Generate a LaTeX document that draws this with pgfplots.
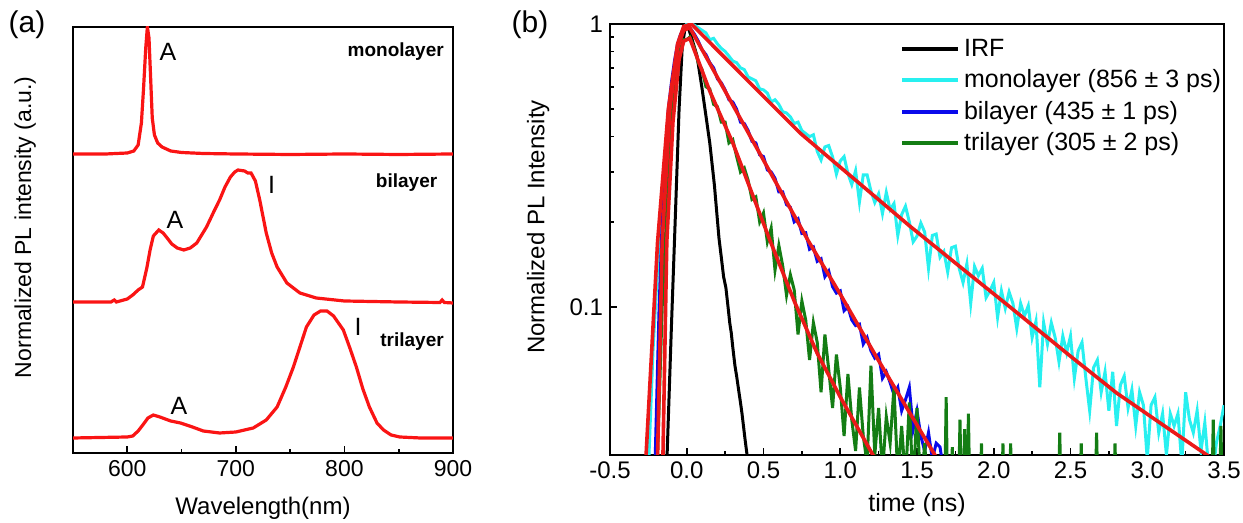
\documentclass[border=0pt]{standalone}
\usepackage{fontspec}
\setmainfont{Liberation Sans}
\usepackage{pgfplots}
\pgfplotsset{compat=1.18}
\definecolor{specred}{RGB}{250,20,20}
\definecolor{fitred}{RGB}{235,25,25}
\definecolor{cyanline}{RGB}{40,240,240}
\definecolor{blueline}{RGB}{10,10,235}
\definecolor{greenline}{RGB}{20,125,20}

\pgfplotsset{
  common/.style={
    scale only axis,
    anchor=south west,
    tick pos=left,
    tick align=inside,
    major tick length=3.5pt,
    minor tick length=2pt,
    axis line style={line width=0.8pt},
    every tick/.style={black, line width=0.8pt},
    /pgf/number format/assume math mode=true,
  }
}

\begin{document}
\begin{tikzpicture}
\useasboundingbox (0,0) rectangle (621.5pt,261.5pt);

\node[font=\fontsize{15}{17}\selectfont] at (13.5pt,249pt) {(a)};
\node[font=\fontsize{15}{17}\selectfont] at (265pt,249pt) {(b)};

% ---------------- panel (a): PL spectra ----------------
\begin{axis}[common,
  at={(36.5pt,35pt)}, width=190pt, height=213pt,
  xmin=550, xmax=900, ymin=0, ymax=4.26,
  xtick={600,700,800,900}, minor xtick={650,750,850}, ytick=\empty,
  ticklabel style={font=\fontsize{11.5}{13}\selectfont},
  xlabel={Wavelength(nm)},
  ylabel={Normalized PL intensity (a.u.)},
  xlabel style={font=\fontsize{12}{14}\selectfont, at={(axis description cs:0.5,-0.129)}, anchor=center},
  ylabel style={font=\fontsize{11.5}{13}\selectfont, at={(axis description cs:-0.126,0.53)}, anchor=center, rotate=0},
]
% monolayer
\addplot[specred, line width=1.6pt] coordinates {
(550,2.99) (580,2.99) (600,3.00) (606,3.02) (610,3.08) (613,3.30) (615,3.65) (617,4.05)
(618.5,4.26) (620,4.15) (621.5,3.75) (623,3.35) (625,3.18) (628,3.10) (632,3.06) (640,3.02)
(650,3.005) (670,2.995) (700,2.99) (750,2.985) (800,2.99) (850,2.985) (900,2.99)};
% bilayer
\addplot[specred, line width=1.6pt] coordinates {
(550,1.51) (585,1.51) (588,1.53) (590,1.51) (600,1.54) (605,1.58) (610,1.63) (614,1.66) (618,1.85)
(621,2.03) (624,2.17) (629,2.23) (633,2.20) (636,2.16) (641,2.09) (646,2.05) (652,2.03)
(658,2.05) (664,2.10) (673,2.26) (680,2.42) (685,2.53) (690,2.66) (695,2.76) (699,2.81)
(702,2.83) (708,2.82) (711,2.80) (714,2.80) (718,2.72) (722,2.53) (728,2.20) (733,2.00)
(738,1.86) (747,1.70) (759,1.60) (774,1.55) (800,1.52) (850,1.51) (888,1.505) (890,1.53) (892,1.505) (900,1.50)};
% trilayer
\addplot[specred, line width=1.6pt] coordinates {
(550,0.15) (600,0.16) (605,0.17) (610,0.22) (615,0.29) (619,0.35) (624,0.38) (630,0.36)
(640,0.32) (649,0.30) (660,0.26) (670,0.22) (685,0.20) (700,0.21) (716,0.25) (728,0.33)
(738,0.46) (746,0.66) (753,0.86) (759,1.06) (765,1.26) (772,1.38) (778,1.42) (784,1.42)
(790,1.37) (799,1.23) (805,1.05) (811,0.86) (817,0.64) (823,0.46) (830,0.30) (836,0.23)
(843,0.18) (851,0.16) (870,0.15) (900,0.15)};

\node[font=\fontsize{12.5}{14}\selectfont] at (axis cs:637.5,4.01) {A};
\node[font=\fontsize{12.5}{14}\selectfont] at (axis cs:644,2.33) {A};
\node[font=\fontsize{12.5}{14}\selectfont] at (axis cs:647.6,0.47) {A};
\node[font=\fontsize{12.5}{14}\selectfont] at (axis cs:733,2.68) {I};
\node[font=\fontsize{12.5}{14}\selectfont] at (axis cs:812.5,1.26) {I};
\node[font=\bfseries\fontsize{9.5}{11}\selectfont, anchor=east] at (axis cs:898,4.01) {monolayer};
\node[font=\bfseries\fontsize{9.5}{11}\selectfont, anchor=east] at (axis cs:892,2.70) {bilayer};
\node[font=\bfseries\fontsize{9.5}{11}\selectfont, anchor=east] at (axis cs:898,1.11) {trilayer};
\end{axis}

% ---------------- panel (b): PL decay ----------------
\begin{axis}[common,
  at={(305pt,34pt)}, width=307pt, height=215.5pt,
  ymode=log,
  xmin=-0.5, xmax=3.5, ymin=0.03, ymax=1,
  xtick={-0.5,0,0.5,1,1.5,2,2.5,3,3.5},
  minor xtick={-0.25,0.25,0.75,1.25,1.75,2.25,2.75,3.25},
  xticklabel style={/pgf/number format/.cd, fixed, fixed zerofill, precision=1},
  ytick={0.1,1}, yticklabels={0.1,1},
  ticklabel style={font=\fontsize{12}{14}\selectfont},
  xlabel={time (ns)},
  ylabel={Normalized PL Intensity},
  xlabel style={font=\fontsize{12.5}{14}\selectfont, at={(axis description cs:0.5,-0.116)}, anchor=center},
  ylabel style={font=\fontsize{12}{14}\selectfont, at={(axis description cs:-0.117,0.529)}, anchor=center, rotate=0},
  legend cell align=left,
  legend image code/.code={\draw[#1, line width=2pt] (0pt,0pt) -- (28pt,0pt);},
  legend style={draw=none, fill=none, at={(0.462,0.985)}, anchor=north west,
    font=\fontsize{12.5}{14}\selectfont, row sep=1.2pt,
    /tikz/every odd column/.append style={column sep=0pt}},
]
% IRF
\addplot[black, line width=1.5pt] coordinates {
(-0.135,0.025) (-0.128,0.03) (-0.10,0.085) (-0.077,0.19) (-0.05,0.5) (-0.03,0.82) (-0.01,0.98)
(0.005,0.99) (0.03,0.9) (0.067,0.77) (0.10,0.59) (0.15,0.38) (0.18,0.27) (0.21,0.175)
(0.225,0.15) (0.24,0.128) (0.255,0.117) (0.269,0.1) (0.28,0.088) (0.29,0.081) (0.30,0.072)
(0.314,0.062) (0.325,0.057) (0.34,0.050) (0.35,0.046) (0.36,0.042) (0.372,0.037) (0.38,0.034)
(0.393,0.03) (0.40,0.027)};
\addlegendentry{IRF}
% monolayer
\addplot[cyanline, line width=1.5pt] coordinates {
(-0.27,0.022) (-0.246,0.03) (-0.22,0.07) (-0.2,0.11) (-0.18,0.17) (-0.16,0.25) (-0.14,0.34)
(-0.12,0.47) (-0.10,0.58) (-0.08,0.70) (-0.06,0.82) (-0.04,0.91) (-0.02,0.97) (0.0,1.0) (0.03,1.0)
(0.05,0.99) (0.075,0.97) (0.1,0.95) (0.125,0.93) (0.15,0.88) (0.175,0.89) (0.2,0.85) (0.225,0.82)
(0.25,0.80) (0.275,0.77) (0.3,0.74) (0.325,0.73) (0.35,0.70) (0.375,0.69) (0.4,0.65) (0.425,0.64)
(0.45,0.63) (0.475,0.59) (0.5,0.585) (0.525,0.57) (0.55,0.53) (0.575,0.54) (0.6,0.52) (0.625,0.49)
(0.65,0.485) (0.675,0.47) (0.7,0.445) (0.725,0.45) (0.75,0.42) (0.775,0.41)
(0.8,0.40) (0.825,0.406) (0.85,0.355) (0.875,0.331) (0.9,0.368) (0.925,0.372) (0.95,0.339)
(0.975,0.295) (1.0,0.328) (1.025,0.340) (1.05,0.296) (1.075,0.271) (1.1,0.303) (1.125,0.235)
(1.15,0.293) (1.175,0.293) (1.2,0.257) (1.225,0.234) (1.25,0.251) (1.275,0.214) (1.3,0.254)
(1.325,0.221) (1.35,0.232) (1.375,0.179) (1.4,0.212) (1.425,0.227) (1.45,0.200) (1.475,0.170)
(1.5,0.178) (1.525,0.198) (1.55,0.184) (1.575,0.137) (1.6,0.179) (1.625,0.181) (1.65,0.150)
(1.675,0.157) (1.7,0.133) (1.725,0.162) (1.75,0.164) (1.775,0.137) (1.8,0.122) (1.825,0.142)
(1.85,0.103) (1.875,0.139) (1.9,0.129) (1.925,0.137) (1.95,0.108) (1.975,0.114) (2.0,0.122)
(2.025,0.092) (2.05,0.114) (2.075,0.099) (2.1,0.113) (2.125,0.103) (2.15,0.084) (2.175,0.103)
(2.2,0.093) (2.225,0.101) (2.25,0.078) (2.275,0.089) (2.3,0.052) (2.325,0.088) (2.35,0.074)
(2.375,0.088) (2.4,0.078) (2.425,0.064) (2.45,0.079) (2.475,0.069) (2.5,0.079) (2.525,0.056)
(2.55,0.070) (2.575,0.075) (2.6,0.056) (2.625,0.043) (2.65,0.061) (2.675,0.065) (2.7,0.050)
(2.725,0.059) (2.75,0.043) (2.775,0.059) (2.8,0.038) (2.825,0.053) (2.85,0.057) (2.875,0.044)
(2.9,0.051) (2.925,0.038) (2.95,0.050) (2.975,0.045) (3.0,0.029) (3.025,0.045) (3.05,0.048)
(3.075,0.036) (3.1,0.042) (3.125,0.030) (3.15,0.042) (3.175,0.038) (3.2,0.042) (3.225,0.028)
(3.25,0.050) (3.275,0.040) (3.3,0.036) (3.325,0.043) (3.35,0.031) (3.375,0.039) (3.4,0.027)
(3.425,0.025) (3.45,0.033) (3.475,0.038) (3.5,0.045)};
\addlegendentry{monolayer (856 ± 3 ps)}
% bilayer
\addplot[blueline, line width=1.5pt] coordinates {
(-0.22,0.022) (-0.205,0.03) (-0.18,0.1) (-0.16,0.2) (-0.14,0.33) (-0.12,0.5) (-0.10,0.62)
(-0.08,0.74) (-0.06,0.85) (-0.04,0.92) (-0.02,0.96) (0.0,0.98) (0.02,0.97)
(0.05,0.92) (0.075,0.87) (0.1,0.81) (0.125,0.78) (0.15,0.73) (0.175,0.70) (0.2,0.64) (0.225,0.62)
(0.25,0.585) (0.275,0.54) (0.3,0.53) (0.325,0.50) (0.35,0.45) (0.375,0.445) (0.4,0.42)
(0.425,0.385) (0.45,0.38) (0.475,0.345) (0.5,0.34) (0.525,0.305) (0.55,0.30) (0.575,0.285)
(0.6,0.255) (0.625,0.255) (0.65,0.23) (0.675,0.225) (0.7,0.20) (0.725,0.205) (0.75,0.182)
(0.775,0.183) (0.8,0.16) (0.825,0.163) (0.85,0.145) (0.875,0.148) (0.9,0.128) (0.925,0.134)
(0.95,0.118) (0.975,0.112) (1.0,0.114) (1.025,0.097) (1.05,0.1) (1.075,0.09) (1.1,0.086)
(1.125,0.087) (1.15,0.074) (1.175,0.078) (1.2,0.07) (1.225,0.066) (1.25,0.068) (1.275,0.056)
(1.3,0.059) (1.325,0.054) (1.35,0.049) (1.375,0.052) (1.4,0.043) (1.425,0.047) (1.45,0.052)
(1.475,0.037) (1.5,0.043) (1.525,0.035) (1.55,0.031) (1.575,0.036) (1.6,0.029) (1.625,0.033)
(1.65,0.032) (1.675,0.026) (1.7,0.025)};
\addlegendentry{bilayer (435 ± 1 ps)}
% trilayer
\addplot[greenline, line width=1.5pt] coordinates {
(-0.21,0.022) (-0.19,0.03) (-0.16,0.10) (-0.13,0.22) (-0.10,0.45) (-0.07,0.66) (-0.04,0.82)
(-0.02,0.88) (0.0,0.88) (0.02,0.90) (0.05,0.82) (0.075,0.73) (0.1,0.69) (0.125,0.60) (0.15,0.59)
(0.175,0.52) (0.2,0.51) (0.225,0.45) (0.25,0.45) (0.275,0.38) (0.3,0.39) (0.325,0.34) (0.35,0.30)
(0.375,0.31) (0.4,0.28) (0.425,0.24) (0.45,0.245) (0.475,0.20) (0.5,0.215) (0.525,0.17)
(0.55,0.19) (0.575,0.135) (0.6,0.165) (0.625,0.14) (0.65,0.11) (0.675,0.13) (0.7,0.115)
(0.725,0.08) (0.75,0.105) (0.775,0.09) (0.8,0.065) (0.825,0.088) (0.85,0.075) (0.875,0.05)
(0.9,0.08) (0.925,0.06) (0.95,0.044) (0.975,0.068) (1.0,0.052) (1.025,0.035) (1.05,0.058)
(1.075,0.04) (1.1,0.031) (1.125,0.052) (1.15,0.035) (1.175,0.028) (1.2,0.062) (1.225,0.030)
(1.25,0.044) (1.275,0.026) (1.3,0.041) (1.325,0.033) (1.35,0.052) (1.375,0.025) (1.4,0.038)
(1.425,0.024) (1.45,0.046) (1.475,0.023) (1.5,0.044) (1.525,0.022) (1.55,0.033) (1.575,0.021)
(1.6,0.022) (1.68,0.02) (1.69,0.048) (1.70,0.02) (1.72,0.02) (1.73,0.032) (1.74,0.02)
(1.77,0.02) (1.78,0.04) (1.79,0.02) (1.80,0.02) (1.81,0.037) (1.825,0.02) (1.835,0.042)
(1.845,0.02) (1.91,0.02) (1.92,0.033) (1.93,0.02) (2.05,0.02) (2.06,0.033) (2.07,0.02)
(2.10,0.02) (2.11,0.033) (2.12,0.02) (2.42,0.02) (2.43,0.036) (2.44,0.02) (2.56,0.02)
(2.57,0.033) (2.58,0.02) (2.66,0.02) (2.67,0.036) (2.68,0.02) (2.78,0.02) (2.79,0.033)
(2.80,0.02) (3.42,0.02) (3.43,0.04) (3.44,0.02) (3.47,0.02) (3.48,0.038) (3.49,0.02)};
\addlegendentry{trilayer (305 ± 2 ps)}
% fits
\addplot[fitred, line width=1.8pt, forget plot] coordinates {
(-0.27,0.025) (-0.265,0.03) (-0.19,0.17) (-0.12,0.5) (-0.06,0.85) (-0.02,0.98) (0.03,1.0)
(0.3,0.713) (0.5,0.555) (0.738,0.412) (1.0,0.312) (1.454,0.193) (1.8,0.136) (2.106,0.1)
(2.5,0.067) (2.8,0.0497) (3.1,0.0384) (3.389,0.03) (3.45,0.028)};
\addplot[fitred, line width=1.8pt, forget plot] coordinates {
(-0.2,0.025) (-0.19,0.03) (-0.16,0.17) (-0.11,0.5) (-0.06,0.82) (-0.02,0.95) (0.02,0.97)
(0.2,0.648) (0.458,0.363) (0.79,0.172) (1.0,0.111) (1.24,0.066) (1.52,0.0367) (1.65,0.028)};
\addplot[fitred, line width=1.8pt, forget plot] coordinates {
(-0.16,0.025) (-0.155,0.03) (-0.13,0.17) (-0.09,0.45) (-0.05,0.75) (-0.02,0.87) (0.02,0.89)
(0.15,0.579) (0.3,0.38) (0.542,0.172) (0.7,0.105) (0.849,0.0688) (1.0,0.0481) (1.213,0.03)
(1.25,0.028)};
\end{axis}
\end{tikzpicture}
\end{document}
